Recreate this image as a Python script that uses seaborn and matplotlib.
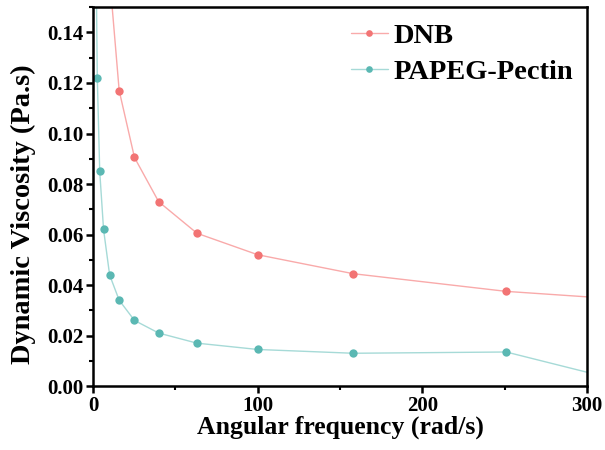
import pandas as pd
import numpy as np
import seaborn as sns
import matplotlib.pyplot as plt
from matplotlib.ticker import MultipleLocator

# angular frequency (rad/s), log spaced sweep
freq = [1.0, 1.58, 2.51, 3.98, 6.31, 10.0, 15.8, 25.1, 39.8, 63.1, 100.0, 158.0, 251.0, 398.0]
dnb = [0.42, 0.33, 0.26, 0.21, 0.19, 0.162, 0.117, 0.0905, 0.073, 0.0605, 0.052, 0.0445, 0.0375, 0.031]
papeg = [0.25, 0.18, 0.122, 0.085, 0.062, 0.044, 0.034, 0.026, 0.021, 0.017, 0.0145, 0.013, 0.0135, -0.0105]
names = ['DNB', 'PAPEG-Pectin']

df = pd.DataFrame({
    'freq': freq * 2,
    'visc': dnb + papeg,
    'sample': [names[0]] * len(freq) + [names[1]] * len(freq),
})

sns.set_style('ticks')
plt.rcParams['font.family'] = ['Liberation Serif', 'DejaVu Serif']
plt.rcParams['font.weight'] = 'bold'
for k in ['text.color', 'axes.labelcolor', 'xtick.color', 'ytick.color']:
    plt.rcParams[k] = 'black'

fig = plt.figure(figsize=(6.05, 4.5), dpi=100)
ax = fig.add_axes([0.154, 0.142, 0.816, 0.842])

marker_cols = ['#f27474', '#5bb8b3']
line_cols = ['#f9aaaa', '#a6dad7']
sns.lineplot(data=df, x='freq', y='visc', hue='sample', palette=marker_cols,
             marker='o', markersize=6, markeredgewidth=0, lw=1, legend=False, ax=ax)
for ln, lc, mc in zip(ax.lines, line_cols, marker_cols):
    ln.set_color(lc)
    ln.set_markerfacecolor(mc)
    ln.set_markeredgecolor(mc)

ax.set_xlim(0, 300)
ax.set_ylim(0, 0.15)
ax.xaxis.set_major_locator(MultipleLocator(100))
ax.xaxis.set_minor_locator(MultipleLocator(50))
ax.yaxis.set_major_locator(MultipleLocator(0.02))
ax.yaxis.set_minor_locator(MultipleLocator(0.01))
ax.yaxis.set_major_formatter(plt.FormatStrFormatter('%.2f'))
ax.tick_params(which='major', direction='out', length=5, width=1.8, labelsize=15, pad=2)
ax.tick_params(which='minor', direction='out', length=3, width=1.5)
for s in ax.spines.values():
    s.set_linewidth(1.8)
    s.set_color('black')

ax.set_xlabel('Angular frequency (rad/s)', fontsize=18.5, fontweight='bold', labelpad=0)
ax.set_ylabel('Dynamic Viscosity (Pa.s)', fontsize=20.5, fontweight='bold')
ax.yaxis.set_label_coords(-0.115, 0.455)

leg = ax.legend(ax.lines[:2], names, loc='upper left', bbox_to_anchor=(0.522, 0.957),
                frameon=False, borderaxespad=0, borderpad=0, handlelength=1.3,
                handletextpad=0.2, labelspacing=0.33, markerscale=0.8,
                prop={'size': 20.5, 'weight': 'bold'})

plt.savefig('out.png', dpi=100)
